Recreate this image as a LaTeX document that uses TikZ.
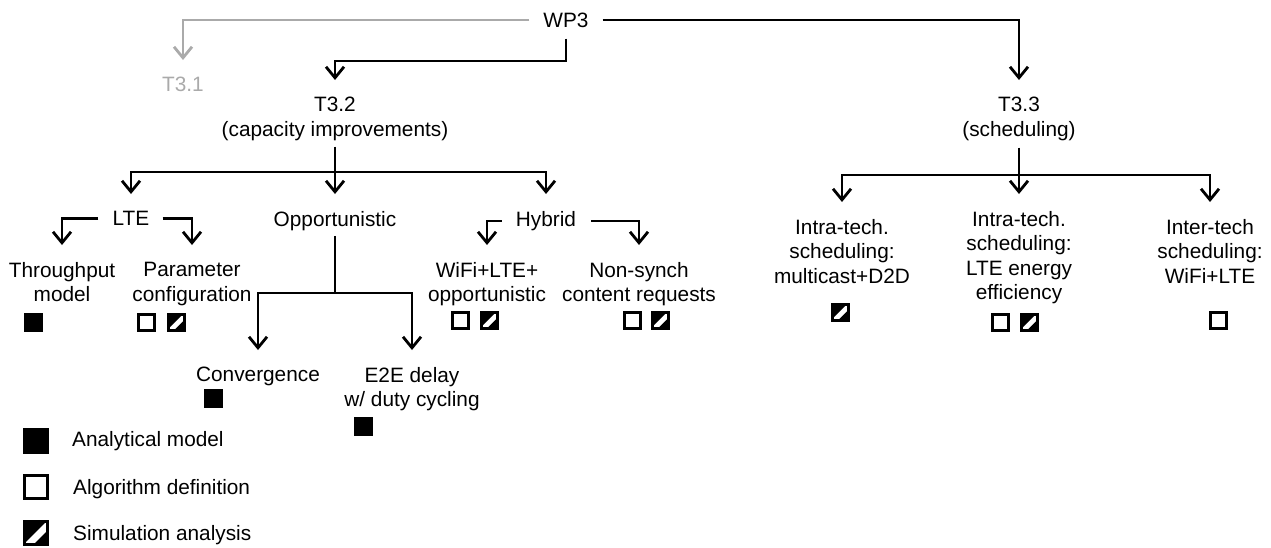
\documentclass[tikz,border=0pt]{standalone}
\usepackage{fontspec}
\setmainfont{Liberation Sans}
\usetikzlibrary{arrows.meta,calc}
\definecolor{lgray}{RGB}{170,170,170}
% #1 node name, #2 half side; coordinates are x right, y down
\newcommand\hatchit[2]{%
  \fill[black] ($(#1.center)+(-#2,0.9*#2)$)
    -- ($(#1.center)+(0.9*#2,-#2)$)
    -- ($(#1.center)+(-#2,-#2)$) -- cycle;
  \fill[black] ($(#1.center)+(-0.2*#2,#2)$)
    -- ($(#1.center)+(#2,#2)$)
    -- ($(#1.center)+(#2,-0.2*#2)$) -- cycle;}
\begin{document}
\begin{tikzpicture}[x=1pt,y=-1pt,
  lbl/.style={font=\fontsize{20.8}{24.5}\selectfont, align=center, inner sep=0pt, anchor=north},
  ln/.style={line width=2.8pt},
  arr/.style={ln, -{Straight Barb[length=11pt,width=18pt]}, shorten >=17pt},
  sq/.style={draw, line width=3pt, minimum size=16pt, inner sep=0pt},
  sqfull/.style={sq, fill=black},
  sqempty/.style={sq, fill=white},
  sqhatch/.style={sq, fill=white},
  big/.style={minimum size=23pt, line width=3.2pt},
  legtxt/.style={font=\fontsize{20.8}{24.5}\selectfont, inner sep=0pt, anchor=base west},
]
\useasboundingbox (0,0) rectangle (1271,547);

% nodes
\node[lbl, anchor=center] (wp3) at (566,20) {WP3};
\node[lbl, text=lgray] (t31) at (183,77) {T3.1};
\node[lbl] (t32) at (335,97) {T3.2\\(capacity improvements)};
\node[lbl] (t33) at (1019,97) {T3.3\\(scheduling)};

\node[lbl] (lte) at (131,211) {LTE};
\node[lbl] (opp) at (335,211) {Opportunistic};
\node[lbl] (hyb) at (546,211) {Hybrid};

\node[lbl] (thr) at (62,262) {Throughput\\model};
\node[lbl] (par) at (192,262) {Parameter\\configuration};
\node[lbl] (wifi) at (487,262) {WiFi+LTE+\\opportunistic};
\node[lbl] (nsy) at (639,262) {Non-synch\\content requests};

\node[lbl] (conv) at (258,367) {Convergence};
\node[lbl] (e2e) at (412,367) {E2E delay\\w/ duty cycling};

\node[lbl] (s1) at (842,219) {Intra-tech.\\scheduling:\\multicast+D2D};
\node[lbl] (s2) at (1019,211) {Intra-tech.\\scheduling:\\LTE energy\\efficiency};
\node[lbl] (s3) at (1210,219) {Inter-tech\\scheduling:\\WiFi+LTE};

% junctions
\coordinate (j0) at (335,61);
\coordinate (j32) at (335,172);
\coordinate (jop) at (335,293);
\coordinate (j33) at (1019,175);

% connectors
\draw[arr, draw=lgray, shorten <=14pt] (wp3.west) -| (t31.north);
\draw[arr, shorten <=14pt] (wp3.east) -| (t33.north);
\draw[arr, shorten <=11pt] (wp3.south) |- (j0) -- (t32.north);

\draw[ln, shorten <=6pt] (t32.south) -- (j32);
\draw[arr] (j32) -| (lte.north);
\draw[arr] (j32) -- (opp.north);
\draw[arr] (j32) -| (hyb.north);

\draw[arr, shorten <=14pt] (lte.west) -| (thr.north);
\draw[arr, shorten <=13pt] (lte.east) -| (par.north);
\draw[arr, shorten <=14pt] (hyb.west) -| (wifi.north);
\draw[arr, shorten <=15pt] (hyb.east) -| (nsy.north);

\draw[ln, shorten <=5pt] (opp.south) -- (jop);
\draw[arr] (jop) -| (conv.north);
\draw[arr] (jop) -| (e2e.north);

\draw[ln, shorten <=7pt] (t33.south) -- (j33);
\draw[arr] (j33) -| (s1.north);
\draw[arr] (j33) -- (s2.north);
\draw[arr] (j33) -| (s3.north);

% markers
\node[sqfull] (m1) at (33,322) {};
\node[sqempty] (m2) at (146,322) {};
\node[sqhatch] (m3) at (176,322) {};
\node[sqempty] (m4) at (460,320) {};
\node[sqhatch] (m5) at (489,320) {};
\node[sqempty] (m6) at (632,320) {};
\node[sqhatch] (m7) at (660,320) {};
\node[sqfull] (m8) at (213,398) {};
\node[sqfull] (m9) at (363,426) {};
\node[sqhatch] (m10) at (840,312) {};
\node[sqempty] (m11) at (1000,322) {};
\node[sqhatch] (m12) at (1029,322) {};
\node[sqempty] (m13) at (1218,320) {};

% legend
\node[sqfull, big] (l1) at (36,441) {};
\node[sqempty, big] (l2) at (36,487) {};
\node[sqhatch, big] (l3) at (36,533) {};
\node[legtxt] (lt1) at (72,446) {Analytical model};
\node[legtxt] (lt2) at (73,494) {Algorithm definition};
\node[legtxt] (lt3) at (73,540) {Simulation analysis};

\hatchit{m3}{8}\hatchit{m5}{8}\hatchit{m7}{8}\hatchit{m10}{8}\hatchit{m12}{8}\hatchit{l3}{11.5}
\end{tikzpicture}
\end{document}
